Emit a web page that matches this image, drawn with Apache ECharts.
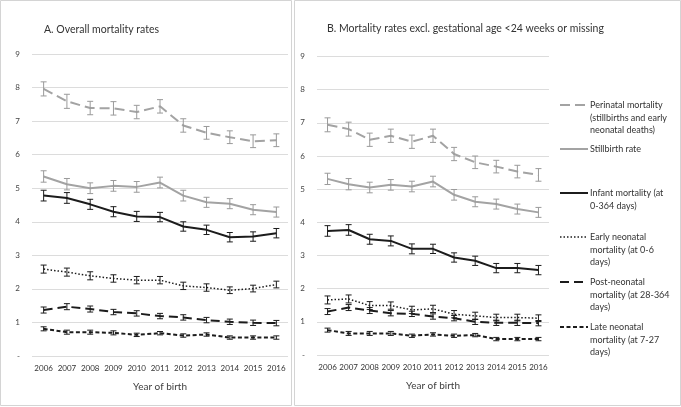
<!DOCTYPE html>
<html>
<head>
<meta charset="utf-8">
<script src="https://cdn.jsdelivr.net/npm/echarts@6/dist/echarts.min.js"></script>
<style>
  html, body { margin: 0; padding: 0; background: #fff; }
  #main { width: 681px; height: 407px; }
</style>
</head>
<body>
<div id="main"></div>
<script>
// years on the x axis
const years = ['2006', '2007', '2008', '2009', '2010', '2011', '2012', '2013', '2014', '2015', '2016'];
const yTickLabels = ['-', '1', '2', '3', '4', '5', '6', '7', '8', '9'];

// A. overall mortality rates
const perinatalA = [7.96, 7.59, 7.39, 7.38, 7.27, 7.44, 6.87, 6.65, 6.52, 6.40, 6.43];
const stillbirthA = [5.35, 5.12, 5.00, 5.07, 5.04, 5.17, 4.78, 4.58, 4.54, 4.36, 4.29];
const infantA = [4.78, 4.71, 4.52, 4.30, 4.16, 4.14, 3.86, 3.76, 3.54, 3.56, 3.66];
const earlyA = [2.59, 2.50, 2.39, 2.31, 2.26, 2.26, 2.09, 2.04, 1.96, 2.01, 2.13];
const postA = [1.37, 1.47, 1.40, 1.31, 1.27, 1.19, 1.15, 1.07, 1.02, 0.99, 0.98];
const lateA = [0.81, 0.71, 0.71, 0.69, 0.63, 0.68, 0.61, 0.64, 0.55, 0.55, 0.55];

// B. excl. gestational age <24 weeks or missing
const perinatalB = [6.94, 6.81, 6.49, 6.61, 6.43, 6.61, 6.06, 5.81, 5.68, 5.53, 5.43];
const stillbirthB = [5.31, 5.15, 5.05, 5.13, 5.08, 5.23, 4.83, 4.62, 4.55, 4.40, 4.30];
const infantB = [3.74, 3.77, 3.49, 3.44, 3.20, 3.20, 2.94, 2.84, 2.62, 2.62, 2.56];
const earlyB = [1.66, 1.69, 1.49, 1.49, 1.36, 1.39, 1.23, 1.18, 1.13, 1.13, 1.11];
const postB = [1.31, 1.43, 1.34, 1.26, 1.24, 1.16, 1.11, 1.00, 0.97, 0.97, 0.96];
const lateB = [0.75, 0.65, 0.65, 0.65, 0.58, 0.62, 0.58, 0.60, 0.48, 0.48, 0.48];

// half-width of the confidence intervals
const errPerinatal = [0.21, 0.21, 0.20, 0.20, 0.20, 0.20, 0.20, 0.19, 0.19, 0.19, 0.19];
const errStillbirth = [0.17, 0.17, 0.16, 0.16, 0.16, 0.16, 0.16, 0.15, 0.15, 0.15, 0.15];
const errInfant = [0.16, 0.16, 0.15, 0.15, 0.15, 0.14, 0.14, 0.14, 0.14, 0.14, 0.14];
const errEarly = [0.12, 0.12, 0.12, 0.11, 0.11, 0.11, 0.11, 0.11, 0.10, 0.10, 0.10];
const errPost = [0.09, 0.09, 0.09, 0.08, 0.08, 0.08, 0.08, 0.08, 0.08, 0.08, 0.08];
const errLate = [0.06, 0.06, 0.06, 0.06, 0.05, 0.05, 0.05, 0.05, 0.05, 0.05, 0.05];

const legendNames = [
  'Perinatal mortality\n(stillbirths and early\nneonatal deaths)',
  'Stillbirth rate',
  'Infant mortality (at\n0-364 days)',
  'Early neonatal\nmortality (at 0-6\ndays)',
  'Post-neonatal\nmortality (at 28-364\ndays)',
  'Late neonatal\nmortality (at 7-27\ndays)'
];

const GRAY = '#a3a3a3';
const BLACK = '#1c1c1c';
const FONT = 'Lato, "Open Sans", sans-serif';

const lines = [
  { a: perinatalA, b: perinatalB, err: errPerinatal, color: GRAY, width: 2, dash: [10, 5] },
  { a: stillbirthA, b: stillbirthB, err: errStillbirth, color: GRAY, width: 2, dash: 'solid' },
  { a: infantA, b: infantB, err: errInfant, color: BLACK, width: 2, dash: 'solid' },
  { a: earlyA, b: earlyB, err: errEarly, color: BLACK, width: 1.5, dash: [1.5, 2] },
  { a: postA, b: postB, err: errPost, color: BLACK, width: 2, dash: [9, 5] },
  { a: lateA, b: lateB, err: errLate, color: BLACK, width: 2, dash: [4, 2.5] }
];

const chart = echarts.init(document.getElementById('main'));

function errorBarRender(color) {
  return function (params, api) {
    const lo = api.coord([api.value(0), api.value(1)]);
    const hi = api.coord([api.value(0), api.value(2)]);
    const half = 3;
    const style = { stroke: color, lineWidth: 1 };
    return {
      type: 'group',
      children: [
        { type: 'line', shape: { x1: lo[0], y1: lo[1], x2: hi[0], y2: hi[1] }, style: style },
        { type: 'line', shape: { x1: lo[0] - half, y1: lo[1], x2: lo[0] + half, y2: lo[1] }, style: style },
        { type: 'line', shape: { x1: hi[0] - half, y1: hi[1], x2: hi[0] + half, y2: hi[1] }, style: style }
      ]
    };
  };
}

const series = [];
lines.forEach((ln, k) => {
  [ln.a, ln.b].forEach((vals, panel) => {
    series.push({
      name: legendNames[k],
      type: 'line',
      xAxisIndex: panel,
      yAxisIndex: panel,
      data: vals,
      symbol: 'none',
      silent: true,
      z: 3,
      lineStyle: { color: ln.color, width: ln.width, type: ln.dash, cap: 'butt' }
    });
    series.push({
      type: 'custom',
      xAxisIndex: panel,
      yAxisIndex: panel,
      renderItem: errorBarRender(ln.color === GRAY ? '#9a9a9a' : BLACK),
      data: vals.map((v, i) => [i, v - ln.err[i], v + ln.err[i]]),
      silent: true,
      z: 4
    });
  });
});

function xAxisFor(gridIndex) {
  return {
    type: 'category',
    gridIndex: gridIndex,
    data: years,
    boundaryGap: true,
    axisLine: { show: false },
    axisTick: { show: false },
    axisLabel: { color: '#333', fontSize: 8, fontFamily: FONT, margin: 8, interval: 0, hideOverlap: false },
    name: 'Year of birth',
    nameLocation: 'middle',
    nameGap: 26,
    nameTextStyle: { color: '#404040', fontSize: 10, fontFamily: FONT }
  };
}

function yAxisFor(gridIndex) {
  return {
    type: 'value',
    gridIndex: gridIndex,
    min: 0,
    max: 9,
    interval: 1,
    axisLine: { show: false },
    axisTick: { show: false },
    splitLine: { lineStyle: { color: '#dcdcdc', width: 1 } },
    axisLabel: {
      color: '#444',
      fontSize: 8,
      fontFamily: FONT,
      margin: 12,
      formatter: v => yTickLabels[v]
    }
  };
}

// custom legend, text anchored at its first line like the original
const legendTops = [99, 143, 187, 231, 276, 321];
const legendDash = [[10, 5], null, null, [1.5, 2], [9, 5], [4, 2.5]];
const legendGraphics = [];
lines.forEach((ln, k) => {
  const y = legendTops[k] + 6;
  legendGraphics.push({
    type: 'line',
    shape: { x1: 560, y1: y, x2: 588, y2: y },
    style: { stroke: ln.color, lineWidth: ln.width, lineDash: legendDash[k] }
  });
  legendGraphics.push({
    type: 'text',
    left: 590,
    top: legendTops[k],
    style: { text: legendNames[k], fill: '#333', font: '9px ' + FONT, lineHeight: 12.5 }
  });
});

const option = {
  animation: false,
  backgroundColor: '#fff',
  title: [
    { text: 'A. Overall mortality rates', left: 39, top: 19,
      textStyle: { color: '#333', fontSize: 10.5, fontWeight: 'normal', fontFamily: FONT } },
    { text: 'B. Mortality rates excl. gestational age <24 weeks or missing', left: 322, top: 18,
      textStyle: { color: '#333', fontSize: 10.5, fontWeight: 'normal', fontFamily: FONT } }
  ],
  grid: [
    { left: 32, right: 393, top: 54, bottom: 51 },
    { left: 317, right: 132, top: 56.5, bottom: 52 }
  ],
  xAxis: [xAxisFor(0), xAxisFor(1)],
  yAxis: [yAxisFor(0), yAxisFor(1)],
  series: series,
  graphic: [
    { type: 'rect', shape: { x: 0.5, y: 0.5, width: 291, height: 405 },
      style: { fill: 'none', stroke: '#d4d4d4', lineWidth: 1 }, z: -1 },
    { type: 'rect', shape: { x: 294.5, y: 0.5, width: 386, height: 405 },
      style: { fill: 'none', stroke: '#d4d4d4', lineWidth: 1 }, z: -1 }
  ].concat(legendGraphics)
};

chart.setOption(option);
window.addEventListener('resize', () => chart.resize());
</script>
</body>
</html>
